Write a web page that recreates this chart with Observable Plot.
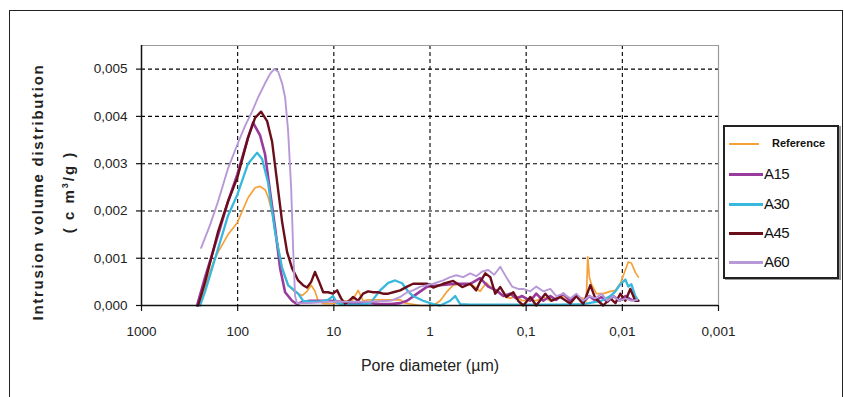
<!DOCTYPE html>
<html><head><meta charset="utf-8">
<script src="https://cdn.jsdelivr.net/npm/d3@7"></script>
<script src="https://cdn.jsdelivr.net/npm/@observablehq/plot@0.6"></script>
<style>
html,body{margin:0;padding:0;background:#fff;}
#wrap{position:relative;width:844px;height:397px;overflow:hidden;font-family:"Liberation Sans",Arial,sans-serif;}
#border{position:absolute;left:9px;top:10px;width:832px;height:420px;border:1px solid #222;pointer-events:none;}
#legend{position:absolute;left:723px;top:125px;width:112px;height:150px;border:2px solid #222;box-shadow:2px 1px 0 #999;background:#fff;}
.item{position:absolute;left:4px;height:20px;}
.item .sw{position:absolute;left:0;top:9px;width:34px;height:3px;}
.item .lb{position:absolute;left:35px;top:1px;font-size:15px;color:#111;letter-spacing:-0.5px;}
.item .lb.small{left:43px;top:3px;font-size:11px;font-weight:bold;letter-spacing:0;}
</style></head>
<body>
<div id="wrap"><div id="chart"></div><div id="border"></div><div id="legend"></div></div>
<script>
// Pore diameter (µm), intrusion volume distribution (cm3/g)
const reference = [[246,0],[218,0.0004],[180,0.0009],[160,0.00113],[126,0.0015],[101,0.00175],[78.0,0.00228],[65.9,0.00249],[58.5,0.00252],[51.9,0.00245],[48.3,0.0023],[43.9,0.00199],[38.9,0.00135],[34.5,0.00079],[29.9,0.00043],[25.3,0.00028],[21.4,0.00021],[19.0,0.0003],[17.2,0.00043],[15.7,0.0003],[14.6,0.0001],[12.9,0.00004],[10.2,0.00004],[7.63,0.0001],[6.45,0.0001],[5.59,0.00032],[4.96,0.0001],[4.40,0.00012],[2.04,0.00012],[1.81,0.00005],[1.26,0],[0.927,0],[0.783,0.0001],[0.662,0.0003],[0.574,0.00043],[0.485,0.00045],[0.420,0.00045],[0.356,0.00042],[0.301,0.0003],[0.260,0.00048],[0.225,0.00035],[0.195,0.0003],[0.173,0.0002],[0.146,0.00015],[0.127,0.0002],[0.110,0.0001],[0.0906,0.00012],[0.0785,0.0001],[0.0664,0.00018],[0.0561,0.0001],[0.0486,0.00015],[0.0411,0.0002],[0.0348,0.0001],[0.0301,0.00018],[0.0255,0.00015],[0.0237,0.0001],[0.0229,0.00103],[0.0220,0.0006],[0.0210,0.00045],[0.0186,0.00025],[0.0158,0.00025],[0.0133,0.0003],[0.0118,0.00032],[0.0105,0.00046],[0.0093,0.00075],[0.00867,0.00092],[0.00806,0.0009],[0.00733,0.0007],[0.00681,0.0006]];
const a15 = [[264.5,0],[218,0.0006],[160,0.00149],[126,0.0022],[101,0.00277],[78.0,0.00355],[69.2,0.00387],[58.5,0.0036],[51.9,0.0032],[46.0,0.0024],[40.8,0.00164],[36.2,0.00079],[32.1,0.00028],[27.2,0.0001],[24.1,0.00003],[20.9,0.00008],[17.7,0.0001],[13.9,0.0001],[10.9,0.0001],[8.59,0.00008],[6.76,0.00005],[5.32,0.00005],[4.19,0.00005],[3.30,0.00003],[2.59,0.00003],[2.04,0.00005],[1.73,0.0001],[1.36,0.00025],[1.07,0.0004],[0.783,0.00043],[0.533,0.00046],[0.382,0.00046],[0.301,0.00058],[0.248,0.0004],[0.205,0.00032],[0.173,0.0002],[0.146,0.00025],[0.127,0.00015],[0.110,0.0002],[0.0906,0.0001],[0.0785,0.00025],[0.0664,0.0001],[0.0561,0.0002],[0.0486,0.00012],[0.0411,0.00025],[0.0348,0.0001],[0.0301,0.0002],[0.0255,0.00008],[0.0220,0.0002],[0.0191,0.0001],[0.0165,0.00018],[0.0143,0.00008],[0.0124,0.0002],[0.0107,0.0001],[0.0093,0.0002],[0.00806,0.00012],[0.00698,0.0001]];
const a30 = [[246,0],[218,0.0003],[160,0.0012],[126,0.0019],[101,0.00234],[78.0,0.003],[62.8,0.00323],[55.7,0.0031],[48.3,0.0026],[43.9,0.002],[40.8,0.00155],[34.5,0.00079],[29.9,0.00043],[23.5,0.00025],[20.9,0.0001],[17.7,0.00008],[13.9,0.00008],[11.5,0.00012],[10.2,0.0002],[9.25,0.00005],[7.63,0.00002],[5.32,0.00002],[4.19,0.00005],[3.30,0.00032],[2.72,0.00048],[2.30,0.00053],[1.95,0.00047],[1.69,0.0003],[1.50,0.0002],[1.18,0.0001],[0.927,0.00003],[0.783,0],[0.617,0.0001],[0.547,0.0002],[0.485,0.00003],[0.382,0.00002],[0.186,0.00002],[0.0906,0.00002],[0.0442,0.00002],[0.0255,0.00003],[0.0165,0.0001],[0.0133,0.0002],[0.0118,0.0003],[0.0105,0.00045],[0.0093,0.00055],[0.00867,0.0004],[0.00806,0.00045],[0.00733,0.0002],[0.00681,0.0001]];
const a45 = [[258,0],[218,0.0005],[160,0.00156],[126,0.0022],[101,0.0027],[78.0,0.00355],[65.9,0.00397],[57.1,0.0041],[49.4,0.0039],[43.9,0.00347],[38.9,0.00262],[34.5,0.00177],[30.6,0.00113],[27.2,0.00079],[23.5,0.00053],[20.9,0.00043],[19.0,0.00038],[17.2,0.0005],[15.7,0.00071],[14.2,0.0005],[12.9,0.00028],[11.5,0.00028],[10.2,0.00025],[9.25,0.00032],[8.40,0.00015],[7.63,0.00004],[6.93,0.0001],[6.30,0.00018],[5.59,0.0001],[4.96,0.00025],[4.40,0.0003],[3.90,0.00028],[3.46,0.00028],[3.07,0.00025],[2.72,0.00025],[2.41,0.00028],[2.04,0.00032],[1.73,0.0004],[1.50,0.00046],[1.26,0.00046],[1.07,0.00046],[0.927,0.00038],[0.729,0.00046],[0.574,0.00052],[0.509,0.00045],[0.462,0.00039],[0.382,0.00046],[0.331,0.00032],[0.301,0.0005],[0.266,0.00068],[0.236,0.0006],[0.210,0.00025],[0.186,0.00039],[0.161,0.00018],[0.136,0.00028],[0.121,0.0001],[0.107,0],[0.0906,0.00018],[0.0785,0],[0.0633,0.00025],[0.0548,0.0001],[0.0442,0.00018],[0.0348,0.00004],[0.0301,0.0002],[0.0255,0.00003],[0.0215,0.00043],[0.0191,0.00015],[0.0158,0],[0.0133,0.00015],[0.0118,0.00005],[0.0105,0.00025],[0.0093,0.0001],[0.00826,0.00035],[0.00733,0.0001],[0.00681,0.0001]];
const a60 = [[240,0.00122],[194,0.0017],[160,0.0022],[126,0.0029],[101,0.0034],[83.8,0.0038],[70.8,0.0041],[61.4,0.0044],[51.9,0.0047],[46.0,0.0049],[41.8,0.005],[38.0,0.00495],[34.5,0.0047],[32.1,0.0044],[29.9,0.0037],[27.8,0.0025],[26.5,0.0012],[25.3,0.0002],[24.1,0.00005],[17.7,0.00005],[10.9,0.00008],[6.76,0.00008],[4.19,0.00008],[2.59,0.0001],[2.04,0.00018],[1.73,0.00028],[1.50,0.00032],[1.26,0.0004],[1.07,0.00043],[0.927,0.00046],[0.729,0.00053],[0.617,0.0006],[0.533,0.00064],[0.452,0.0006],[0.382,0.00068],[0.331,0.00062],[0.286,0.00072],[0.248,0.00075],[0.215,0.00065],[0.186,0.00082],[0.161,0.0006],[0.140,0.0004],[0.121,0.00035],[0.107,0.00035],[0.0906,0.0003],[0.0785,0.0004],[0.0664,0.0003],[0.0561,0.00035],[0.0486,0.0002],[0.0411,0.00025],[0.0348,0.00015],[0.0301,0.00025],[0.0255,0.0001],[0.0220,0.0002],[0.0191,0.00015],[0.0165,0.00025],[0.0143,0.0001],[0.0124,0.0002],[0.0107,0.0001],[0.0093,0.00015],[0.00806,0.0001],[0.00698,0.00012]];

const seriesNames = ["Reference", "A15", "A30", "A45", "A60"];
const seriesColors = ["#F7A035", "#9B3A9D", "#38B8DD", "#6B0E1B", "#B899D8"];
const seriesWidths = [1.7, 2.6, 2.3, 2.4, 1.9];
const seriesData = [reference, a15, a30, a45, a60];
const xTicks = [1000, 100, 10, 1, 0.1, 0.01, 0.001];
const xTickLabels = ["1000", "100", "10", "1", "0,1", "0,01", "0,001"];
const yTicks = [0, 0.001, 0.002, 0.003, 0.004, 0.005];
const yTickLabels = ["0,000", "0,001", "0,002", "0,003", "0,004", "0,005"];

const dash = "4,3";
const marks = [
  Plot.gridX(xTicks.slice(1, -1), {stroke: "#000", strokeOpacity: 1, strokeDasharray: dash, strokeWidth: 1.1}),
  Plot.gridY(yTicks.slice(1), {stroke: "#000", strokeOpacity: 1, strokeDasharray: dash, strokeWidth: 1.1}),
  Plot.ruleY([0.0055], {stroke: "#9a9a9a", strokeWidth: 1.2}),
  Plot.ruleX([0.001], {stroke: "#9a9a9a", strokeWidth: 1.2}),
];
seriesData.forEach((s, i) => {
  marks.push(Plot.line(s, {x: d => d[0], y: d => d[1], stroke: seriesColors[i], strokeWidth: seriesWidths[i], strokeLinejoin: "round"}));
});
marks.push(
  Plot.ruleY([0], {stroke: "#111", strokeWidth: 1.5}),
  Plot.ruleX([1000], {stroke: "#111", strokeWidth: 1.5}),
  Plot.axisX({ticks: xTicks, tickFormat: d => xTickLabels[xTicks.indexOf(d)], tickSize: 6, tickPadding: 15, label: null, stroke: "#111", strokeWidth: 1.2}),
  Plot.axisY({ticks: yTicks, tickFormat: d => yTickLabels[yTicks.indexOf(d)], tickSize: 5, tickPadding: 9, label: null, stroke: "#111", strokeWidth: 1.2})
);

const chart = Plot.plot({
  width: 844, height: 397,
  marginLeft: 141, marginRight: 126, marginTop: 45, marginBottom: 92,
  x: {type: "log", domain: [1000, 0.001]},
  y: {domain: [0, 0.0055]},
  style: {fontFamily: "'Liberation Sans', Arial, sans-serif", fontSize: "13.5px", color: "#222", background: "#fff"},
  marks
});
document.getElementById("chart").append(chart);

const svg = d3.select(chart);
svg.append("text")
  .attr("transform", "translate(43,192) rotate(-90)")
  .attr("text-anchor", "middle")
  .style("font-family", "'Liberation Sans', Arial, sans-serif")
  .style("font-size", "15px").style("font-weight", "bold").style("letter-spacing", "1.7px")
  .attr("fill", "#222")
  .text("Intrusion volume distribution");
const t2 = svg.append("text")
  .attr("transform", "translate(74,192) rotate(-90)")
  .attr("text-anchor", "middle")
  .style("font-family", "'Liberation Sans', Arial, sans-serif")
  .style("font-size", "15px").style("font-weight", "bold").style("letter-spacing", "2px")
  .attr("fill", "#222");
t2.append("tspan").text("( c m");
t2.append("tspan").attr("dy", -6).style("font-size", "9px").text("3");
t2.append("tspan").attr("dy", 6).text("/g )");
svg.append("text")
  .attr("x", 430).attr("y", 371)
  .attr("text-anchor", "middle")
  .style("font-family", "'Liberation Sans', Arial, sans-serif")
  .style("font-size", "16px")
  .attr("fill", "#222")
  .text("Pore diameter (µm)");

const legend = document.getElementById("legend");
const rowTops = [7, 37, 67, 96, 125];
seriesNames.forEach((n, i) => {
  const it = document.createElement("div");
  it.className = "item";
  it.style.top = rowTops[i] + "px";
  const sw = document.createElement("div");
  sw.className = "sw";
  sw.style.background = seriesColors[i];
  if (i === 0) { sw.style.width = "30px"; sw.style.height = "2px"; }
  const lb = document.createElement("div");
  lb.className = "lb" + (i === 0 ? " small" : "");
  lb.textContent = n;
  it.append(sw, lb);
  legend.append(it);
});
</script>
</body></html>
